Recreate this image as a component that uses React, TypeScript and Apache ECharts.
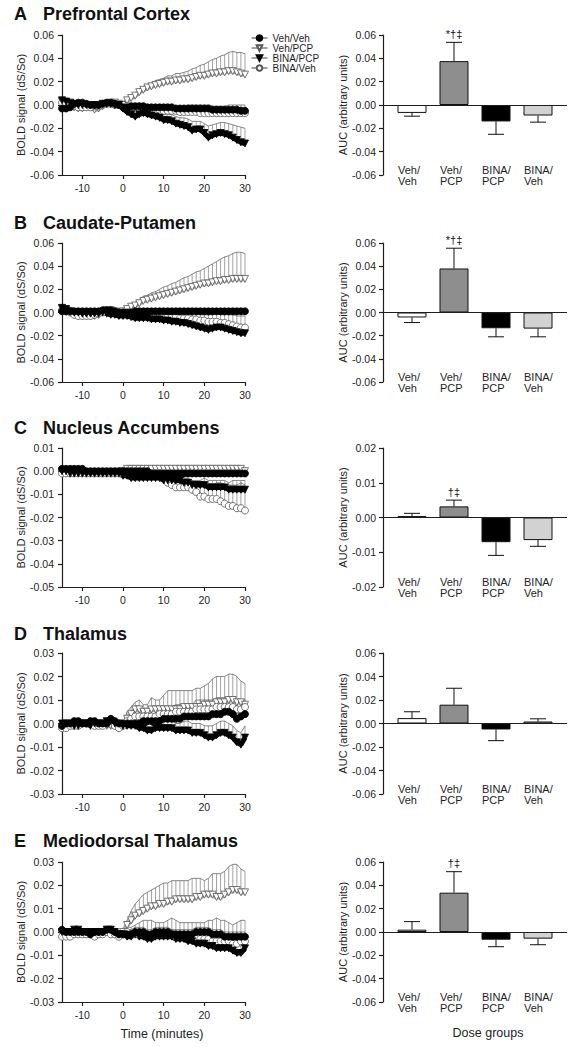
import React, { useEffect, useRef } from "react";
import * as echarts from "echarts";

// ---------- data ----------
const TIME = [
  -15, -14, -13, -12, -11, -10, -9, -8, -7, -6, -5, -4, -3, -2, -1,
  0, 1, 2, 3, 4, 5, 6, 7, 8, 9, 10, 11, 12, 13, 14, 15, 16, 17, 18, 19, 20,
  21, 22, 23, 24, 25, 26, 27, 28, 29, 30,
];
const GROUPS = ["Veh/Veh", "Veh/PCP", "BINA/PCP", "BINA/Veh"];
const BAR_LABELS = ["Veh/\nVeh", "Veh/\nPCP", "BINA/\nPCP", "BINA/\nVeh"];
const X_TICKS = [-10, 0, 10, 20, 30];

// A  Prefrontal Cortex
const PFC_VV = [
  -0.003, -0.003, -0.002, 0.001, 0.002,
  0.002, 0.001, 0.0, 0.0, 0.0,
  0.001, 0.002, 0.002, 0.001, 0.0,
  -0.002, -0.002, -0.001, -0.001, -0.001,
  -0.001, -0.002, -0.002, -0.002, -0.002,
  -0.002, -0.002, -0.002, -0.003, -0.003,
  -0.003, -0.003, -0.003, -0.003, -0.003,
  -0.003, -0.003, -0.004, -0.004, -0.004,
  -0.004, -0.004, -0.004, -0.004, -0.005,
  -0.005,
];
const PFC_VV_E = [
  0.001, 0.001, 0.001, 0.001, 0.001,
  0.001, 0.001, 0.001, 0.001, 0.001,
  0.001, 0.001, 0.001, 0.001, 0.001,
  0.001, 0.001, 0.001, 0.001, 0.001,
  0.002, 0.002, 0.002, 0.002, 0.002,
  0.002, 0.002, 0.002, 0.002, 0.002,
  0.002, 0.003, 0.003, 0.003, 0.003,
  0.003, 0.003, 0.003, 0.003, 0.003,
  0.003, 0.004, 0.004, 0.004, 0.005,
  0.005,
];
const PFC_VP = [
  0.003, 0.002, 0.0, -0.002, -0.003,
  -0.003, -0.002, -0.002, -0.004, -0.003,
  -0.001, 0.001, 0.002, 0.002, 0.001,
  0.0, 0.004, 0.006, 0.008, 0.011,
  0.013, 0.015, 0.016, 0.017, 0.018,
  0.019, 0.02, 0.02, 0.021, 0.021,
  0.022, 0.022, 0.023, 0.024, 0.025,
  0.025, 0.026, 0.027, 0.027, 0.028,
  0.028, 0.029, 0.029, 0.028, 0.027,
  0.026,
];
const PFC_VP_E = [
  0.001, 0.001, 0.001, 0.001, 0.001,
  0.001, 0.001, 0.001, 0.001, 0.001,
  0.001, 0.001, 0.001, 0.001, 0.001,
  0.001, 0.001, 0.002, 0.002, 0.003,
  0.003, 0.003, 0.003, 0.004, 0.004,
  0.004, 0.005, 0.005, 0.006, 0.006,
  0.006, 0.007, 0.008, 0.008, 0.009,
  0.01, 0.011, 0.012, 0.013, 0.014,
  0.015, 0.016, 0.017, 0.017, 0.018,
  0.018,
];
const PFC_BP = [
  0.004, 0.003, 0.002, 0.001, 0.0,
  0.0, 0.0, 0.0, 0.0, 0.0,
  0.001, 0.001, 0.001, 0.0, 0.0,
  -0.003, -0.006, -0.008, -0.01, -0.008,
  -0.007, -0.008, -0.009, -0.01, -0.011,
  -0.013, -0.013, -0.014, -0.016, -0.017,
  -0.018, -0.019, -0.022, -0.021, -0.021,
  -0.024, -0.028, -0.026, -0.025, -0.024,
  -0.025, -0.026, -0.028, -0.03, -0.032,
  -0.033,
];
const PFC_BP_E = [
  0.001, 0.001, 0.001, 0.001, 0.001,
  0.001, 0.001, 0.001, 0.001, 0.001,
  0.001, 0.001, 0.001, 0.001, 0.001,
  0.001, 0.002, 0.003, 0.003, 0.003,
  0.003, 0.004, 0.004, 0.004, 0.005,
  0.005, 0.005, 0.006, 0.006, 0.006,
  0.007, 0.007, 0.008, 0.007, 0.007,
  0.008, 0.01, 0.009, 0.009, 0.009,
  0.01, 0.01, 0.011, 0.012, 0.013,
  0.013,
];
const PFC_BV = [
  0.002, 0.001, 0.0, -0.001, -0.002,
  -0.002, -0.002, -0.002, -0.001, -0.001,
  0.0, 0.001, 0.001, 0.0, 0.0,
  0.0, -0.001, -0.002, -0.002, -0.003,
  -0.003, -0.003, -0.004, -0.004, -0.004,
  -0.005, -0.005, -0.005, -0.005, -0.006,
  -0.006, -0.006, -0.006, -0.006, -0.007,
  -0.007, -0.007, -0.007, -0.007, -0.007,
  -0.007, -0.007, -0.007, -0.007, -0.007,
  -0.007,
];
const PFC_BV_E = [
  0.001, 0.001, 0.001, 0.001, 0.001,
  0.001, 0.001, 0.001, 0.001, 0.001,
  0.001, 0.001, 0.001, 0.001, 0.001,
  0.001, 0.002, 0.002, 0.002, 0.002,
  0.002, 0.002, 0.002, 0.002, 0.002,
  0.002, 0.003, 0.003, 0.003, 0.003,
  0.003, 0.003, 0.003, 0.003, 0.003,
  0.003, 0.004, 0.004, 0.004, 0.004,
  0.004, 0.004, 0.005, 0.005, 0.005,
  0.005,
];

// B  Caudate-Putamen
const CPU_VV = [
  0.001, 0.001, 0.001, 0.001, 0.001,
  0.001, 0.001, 0.001, 0.001, 0.001,
  0.002, 0.002, 0.002, 0.001, 0.0,
  0.0, 0.0, 0.0, 0.001, 0.001,
  0.001, 0.001, 0.001, 0.001, 0.001,
  0.001, 0.001, 0.001, 0.001, 0.001,
  0.001, 0.001, 0.001, 0.001, 0.001,
  0.001, 0.001, 0.001, 0.001, 0.001,
  0.001, 0.001, 0.001, 0.001, 0.001,
  0.001,
];
const CPU_VV_E = [
  0.001, 0.001, 0.001, 0.001, 0.001,
  0.001, 0.001, 0.001, 0.001, 0.001,
  0.001, 0.001, 0.001, 0.001, 0.001,
  0.001, 0.001, 0.001, 0.001, 0.001,
  0.001, 0.001, 0.001, 0.001, 0.001,
  0.001, 0.001, 0.001, 0.001, 0.001,
  0.001, 0.001, 0.001, 0.001, 0.001,
  0.001, 0.001, 0.001, 0.001, 0.001,
  0.001, 0.001, 0.001, 0.001, 0.001,
  0.001,
];
const CPU_VP = [
  0.003, 0.002, 0.0, -0.002, -0.003,
  -0.003, -0.003, -0.003, -0.003, -0.002,
  0.0, 0.002, 0.002, 0.001, 0.0,
  0.001, 0.003, 0.005, 0.006, 0.008,
  0.01, 0.011, 0.012, 0.013, 0.014,
  0.015, 0.016, 0.017, 0.018, 0.019,
  0.02, 0.021, 0.022, 0.023, 0.024,
  0.025, 0.025, 0.026, 0.027, 0.027,
  0.028, 0.028, 0.029, 0.029, 0.029,
  0.029,
];
const CPU_VP_E = [
  0.001, 0.001, 0.001, 0.001, 0.001,
  0.001, 0.001, 0.001, 0.001, 0.001,
  0.001, 0.001, 0.001, 0.001, 0.001,
  0.001, 0.002, 0.002, 0.003, 0.003,
  0.004, 0.004, 0.005, 0.005, 0.006,
  0.007, 0.007, 0.008, 0.008, 0.009,
  0.01, 0.01, 0.011, 0.012, 0.012,
  0.013, 0.015, 0.016, 0.017, 0.019,
  0.02, 0.021, 0.022, 0.023, 0.023,
  0.022,
];
const CPU_BP = [
  0.004, 0.003, 0.001, 0.0, 0.0,
  -0.001, -0.001, -0.001, -0.001, -0.001,
  0.0, -0.001, -0.002, -0.002, -0.003,
  -0.003, -0.003, -0.004, -0.005, -0.005,
  -0.005, -0.005, -0.006, -0.006, -0.006,
  -0.007, -0.007, -0.008, -0.008, -0.009,
  -0.009, -0.01, -0.011, -0.012, -0.013,
  -0.014, -0.015, -0.014, -0.013, -0.013,
  -0.014, -0.015, -0.016, -0.017, -0.018,
  -0.018,
];
const CPU_BP_E = [
  0.001, 0.001, 0.001, 0.001, 0.001,
  0.001, 0.001, 0.001, 0.001, 0.001,
  0.001, 0.001, 0.001, 0.001, 0.001,
  0.001, 0.001, 0.001, 0.002, 0.002,
  0.002, 0.002, 0.002, 0.002, 0.002,
  0.002, 0.003, 0.003, 0.003, 0.003,
  0.003, 0.003, 0.004, 0.004, 0.004,
  0.004, 0.005, 0.005, 0.005, 0.005,
  0.005, 0.006, 0.006, 0.007, 0.007,
  0.007,
];
const CPU_BV = [
  0.002, 0.001, 0.0, -0.002, -0.003,
  -0.003, -0.003, -0.003, -0.002, -0.001,
  0.0, 0.001, 0.001, 0.0, 0.0,
  0.0, -0.001, -0.001, -0.002, -0.002,
  -0.002, -0.002, -0.003, -0.003, -0.003,
  -0.003, -0.004, -0.004, -0.004, -0.005,
  -0.005, -0.005, -0.006, -0.006, -0.007,
  -0.007, -0.008, -0.008, -0.008, -0.009,
  -0.009, -0.01, -0.011, -0.012, -0.013,
  -0.013,
];
const CPU_BV_E = [
  0.001, 0.001, 0.001, 0.001, 0.001,
  0.001, 0.001, 0.001, 0.001, 0.001,
  0.001, 0.001, 0.001, 0.001, 0.001,
  0.001, 0.002, 0.002, 0.002, 0.002,
  0.002, 0.002, 0.002, 0.002, 0.002,
  0.002, 0.003, 0.003, 0.003, 0.003,
  0.003, 0.004, 0.004, 0.005, 0.005,
  0.005, 0.006, 0.006, 0.007, 0.007,
  0.007, 0.008, 0.009, 0.009, 0.01,
  0.01,
];

// C  Nucleus Accumbens
const NAC_VV = [
  0.001, 0.001, 0.001, 0.001, 0.001,
  0.001, 0.0, 0.0, 0.0, 0.0,
  0.0, 0.0, 0.0, 0.0, 0.0,
  0.0, 0.0, 0.0, 0.0, 0.0,
  0.0, 0.0, -0.001, -0.001, -0.001,
  -0.001, -0.001, -0.001, -0.001, -0.001,
  -0.001, -0.001, -0.001, -0.001, -0.001,
  -0.001, -0.001, -0.001, -0.001, -0.001,
  -0.001, -0.001, -0.001, -0.001, -0.001,
  -0.001,
];
const NAC_VV_E = [
  0.0005, 0.0005, 0.0005, 0.0005, 0.0005,
  0.0005, 0.0005, 0.0005, 0.0005, 0.0005,
  0.0005, 0.0005, 0.0005, 0.0005, 0.0005,
  0.0005, 0.0005, 0.0005, 0.0005, 0.0005,
  0.0005, 0.0005, 0.0005, 0.0005, 0.0005,
  0.0005, 0.0005, 0.0005, 0.0005, 0.0005,
  0.0005, 0.0005, 0.0005, 0.0005, 0.0005,
  0.0005, 0.0005, 0.0005, 0.0005, 0.0005,
  0.0005, 0.0005, 0.0005, 0.0005, 0.0005,
  0.0005,
];
const NAC_VP = [
  -0.001, -0.001, -0.001, -0.001, -0.001,
  -0.001, -0.001, -0.001, -0.001, -0.001,
  -0.001, -0.001, -0.001, -0.001, -0.001,
  0.0, 0.001, 0.001, 0.001, 0.001,
  0.001, 0.001, 0.001, 0.001, 0.001,
  0.001, 0.001, 0.001, 0.001, 0.001,
  0.001, 0.001, 0.001, 0.001, 0.001,
  0.001, 0.001, 0.001, 0.001, 0.001,
  0.001, 0.001, 0.001, 0.001, 0.001,
  0.0,
];
const NAC_VP_E = [
  0.0005, 0.0005, 0.0005, 0.0005, 0.0005,
  0.0005, 0.0005, 0.0005, 0.0005, 0.0005,
  0.0005, 0.0005, 0.0005, 0.0005, 0.0005,
  0.0005, 0.0005, 0.0005, 0.0005, 0.0005,
  0.0005, 0.0005, 0.0005, 0.0005, 0.0005,
  0.0005, 0.0005, 0.0005, 0.0005, 0.0005,
  0.0005, 0.0005, 0.0005, 0.0005, 0.0005,
  0.0005, 0.0005, 0.0005, 0.0005, 0.0005,
  0.0005, 0.0005, 0.0005, 0.0005, 0.0005,
  0.0005,
];
const NAC_BP = [
  0.0, 0.0, -0.001, -0.001, -0.001,
  -0.001, -0.001, -0.001, -0.001, -0.001,
  -0.001, -0.001, -0.001, -0.001, -0.001,
  -0.002, -0.002, -0.003, -0.003, -0.003,
  -0.003, -0.003, -0.003, -0.003, -0.003,
  -0.004, -0.004, -0.004, -0.004, -0.004,
  -0.005, -0.005, -0.006, -0.006, -0.006,
  -0.006, -0.007, -0.007, -0.007, -0.007,
  -0.007, -0.008, -0.008, -0.008, -0.008,
  -0.008,
];
const NAC_BP_E = [
  0.0005, 0.0005, 0.0005, 0.0005, 0.0005,
  0.0005, 0.0005, 0.0005, 0.0005, 0.0005,
  0.0005, 0.0005, 0.0005, 0.0005, 0.0005,
  0.001, 0.001, 0.001, 0.001, 0.001,
  0.001, 0.001, 0.001, 0.001, 0.001,
  0.002, 0.002, 0.002, 0.002, 0.002,
  0.002, 0.002, 0.002, 0.002, 0.002,
  0.003, 0.003, 0.003, 0.003, 0.003,
  0.003, 0.003, 0.004, 0.004, 0.004,
  0.004,
];
const NAC_BV = [
  -0.001, -0.001, -0.001, -0.001, -0.001,
  -0.001, -0.001, -0.001, -0.001, -0.001,
  -0.001, -0.001, -0.001, -0.001, -0.001,
  -0.001, -0.001, -0.001, -0.001, -0.001,
  -0.001, -0.001, -0.001, -0.001, -0.001,
  -0.002, -0.005, -0.006, -0.007, -0.007,
  -0.007, -0.007, -0.008, -0.009, -0.011,
  -0.011, -0.012, -0.012, -0.012, -0.013,
  -0.014, -0.015, -0.015, -0.016, -0.016,
  -0.017,
];
const NAC_BV_E = [
  0.0005, 0.0005, 0.0005, 0.0005, 0.0005,
  0.0005, 0.0005, 0.0005, 0.0005, 0.0005,
  0.0005, 0.0005, 0.0005, 0.0005, 0.0005,
  0.001, 0.001, 0.001, 0.001, 0.001,
  0.001, 0.001, 0.001, 0.001, 0.001,
  0.001, 0.003, 0.003, 0.003, 0.003,
  0.003, 0.003, 0.004, 0.004, 0.006,
  0.006, 0.006, 0.006, 0.007, 0.008,
  0.008, 0.009, 0.009, 0.01, 0.011,
  0.011,
];

// D  Thalamus
const THA_VV = [
  -0.001, 0.0, 0.0, 0.001, 0.001,
  0.0, 0.0, 0.001, 0.001, 0.0,
  0.0, 0.0, 0.002, 0.001, 0.0,
  0.0, 0.0, 0.0, 0.0, 0.0,
  0.001, 0.001, 0.001, 0.001, 0.001,
  0.002, 0.002, 0.002, 0.002, 0.002,
  0.003, 0.003, 0.003, 0.003, 0.003,
  0.003, 0.003, 0.004, 0.004, 0.004,
  0.005, 0.005, 0.004, 0.002, 0.003,
  0.004,
];
const THA_VV_E = [
  0.001, 0.001, 0.001, 0.001, 0.001,
  0.001, 0.001, 0.001, 0.001, 0.001,
  0.001, 0.001, 0.001, 0.001, 0.001,
  0.001, 0.001, 0.001, 0.001, 0.001,
  0.002, 0.002, 0.002, 0.002, 0.002,
  0.002, 0.002, 0.002, 0.002, 0.002,
  0.002, 0.002, 0.002, 0.002, 0.002,
  0.002, 0.002, 0.002, 0.002, 0.002,
  0.002, 0.002, 0.002, 0.002, 0.002,
  0.002,
];
const THA_VP = [
  -0.002, -0.001, -0.001, 0.0, 0.0,
  0.0, 0.0, 0.0, 0.0, 0.0,
  0.0, -0.001, -0.001, -0.001, -0.002,
  -0.001, 0.002, 0.004, 0.006, 0.006,
  0.005, 0.005, 0.006, 0.006, 0.006,
  0.006, 0.006, 0.006, 0.006, 0.006,
  0.007, 0.007, 0.007, 0.007, 0.007,
  0.008, 0.008, 0.008, 0.009, 0.009,
  0.009, 0.01, 0.01, 0.009, 0.009,
  0.008,
];
const THA_VP_E = [
  0.001, 0.001, 0.001, 0.001, 0.001,
  0.001, 0.001, 0.001, 0.001, 0.001,
  0.001, 0.001, 0.001, 0.001, 0.001,
  0.001, 0.003, 0.003, 0.003, 0.004,
  0.003, 0.003, 0.005, 0.004, 0.004,
  0.006, 0.008, 0.008, 0.008, 0.008,
  0.007, 0.007, 0.007, 0.008, 0.008,
  0.008, 0.009, 0.011, 0.011, 0.011,
  0.011, 0.011, 0.011, 0.011, 0.009,
  0.009,
];
const THA_BP = [
  0.0, 0.0, 0.0, -0.001, -0.001,
  0.0, 0.0, -0.001, 0.0, 0.0,
  0.0, 0.001, 0.001, 0.0, 0.0,
  -0.001, -0.001, -0.001, -0.001, -0.002,
  -0.002, -0.003, -0.003, -0.002, -0.002,
  -0.002, -0.002, -0.002, -0.003, -0.003,
  -0.003, -0.003, -0.004, -0.004, -0.004,
  -0.005, -0.006, -0.006, -0.005, -0.004,
  -0.004, -0.005, -0.006, -0.008, -0.009,
  -0.006,
];
const THA_BP_E = [
  0.001, 0.001, 0.001, 0.001, 0.001,
  0.001, 0.001, 0.001, 0.001, 0.001,
  0.001, 0.001, 0.001, 0.001, 0.001,
  0.001, 0.002, 0.002, 0.002, 0.002,
  0.002, 0.003, 0.003, 0.003, 0.003,
  0.003, 0.003, 0.003, 0.003, 0.003,
  0.004, 0.004, 0.004, 0.004, 0.004,
  0.004, 0.005, 0.005, 0.005, 0.005,
  0.005, 0.005, 0.005, 0.005, 0.005,
  0.005,
];
const THA_BV = [
  -0.002, -0.002, -0.001, -0.001, -0.001,
  0.0, 0.0, 0.0, -0.001, -0.001,
  -0.001, 0.0, 0.0, -0.001, -0.002,
  -0.001, 0.001, 0.002, 0.003, 0.003,
  0.003, 0.003, 0.003, 0.003, 0.004,
  0.004, 0.004, 0.004, 0.005, 0.005,
  0.005, 0.005, 0.005, 0.006, 0.006,
  0.006, 0.006, 0.006, 0.007, 0.007,
  0.007, 0.007, 0.007, 0.006, 0.006,
  0.007,
];
const THA_BV_E = [
  0.001, 0.001, 0.001, 0.001, 0.001,
  0.001, 0.001, 0.001, 0.001, 0.001,
  0.001, 0.001, 0.001, 0.001, 0.001,
  0.001, 0.002, 0.002, 0.002, 0.002,
  0.003, 0.003, 0.003, 0.003, 0.003,
  0.003, 0.003, 0.003, 0.003, 0.003,
  0.003, 0.003, 0.003, 0.004, 0.004,
  0.004, 0.004, 0.004, 0.004, 0.004,
  0.004, 0.004, 0.004, 0.004, 0.004,
  0.003,
];

// E  Mediodorsal Thalamus
const MD_VV = [
  0.001, 0.0, 0.0, 0.0, 0.0,
  0.0, 0.0, -0.001, 0.0, 0.0,
  0.0, 0.001, 0.001, 0.0, -0.001,
  -0.001, -0.001, -0.001, 0.0, 0.0,
  0.0, -0.001, -0.001, 0.0, 0.0,
  0.0, 0.0, -0.001, -0.001, -0.001,
  -0.001, -0.001, -0.001, 0.0, 0.0,
  0.0, 0.0, -0.001, -0.001, -0.001,
  -0.002, -0.002, -0.002, -0.002, -0.002,
  -0.002,
];
const MD_VV_E = [
  0.001, 0.001, 0.001, 0.001, 0.001,
  0.001, 0.001, 0.001, 0.001, 0.001,
  0.001, 0.001, 0.001, 0.001, 0.001,
  0.002, 0.002, 0.002, 0.002, 0.002,
  0.002, 0.002, 0.002, 0.002, 0.002,
  0.002, 0.002, 0.002, 0.002, 0.002,
  0.002, 0.002, 0.002, 0.002, 0.002,
  0.002, 0.002, 0.002, 0.002, 0.002,
  0.002, 0.002, 0.002, 0.002, 0.002,
  0.002,
];
const MD_VP = [
  -0.001, -0.001, -0.001, 0.0, 0.0,
  -0.001, -0.001, 0.0, -0.001, -0.001,
  0.0, 0.0, -0.001, -0.001, -0.002,
  0.0, 0.003, 0.005, 0.007, 0.008,
  0.009, 0.01, 0.011, 0.011, 0.012,
  0.012, 0.013, 0.013, 0.014, 0.014,
  0.014, 0.014, 0.014, 0.015, 0.015,
  0.016, 0.016, 0.016, 0.015, 0.015,
  0.016, 0.017, 0.018, 0.018, 0.017,
  0.017,
];
const MD_VP_E = [
  0.001, 0.001, 0.001, 0.001, 0.001,
  0.001, 0.001, 0.001, 0.001, 0.001,
  0.001, 0.001, 0.001, 0.001, 0.001,
  0.001, 0.002, 0.004, 0.005, 0.006,
  0.007, 0.007, 0.007, 0.008, 0.008,
  0.009, 0.008, 0.009, 0.008, 0.008,
  0.008, 0.008, 0.009, 0.008, 0.008,
  0.006, 0.007, 0.009, 0.01, 0.01,
  0.01, 0.011, 0.011, 0.011, 0.01,
  0.009,
];
const MD_BP = [
  0.0, 0.0, 0.0, 0.001, 0.001,
  0.0, 0.0, 0.0, 0.0, 0.0,
  0.0, 0.001, 0.001, 0.0, -0.001,
  -0.001, -0.002, -0.002, -0.001, -0.002,
  -0.002, -0.003, -0.003, -0.002, -0.002,
  -0.002, -0.002, -0.002, -0.003, -0.003,
  -0.003, -0.004, -0.004, -0.005, -0.005,
  -0.005, -0.006, -0.006, -0.007, -0.007,
  -0.007, -0.007, -0.008, -0.009, -0.009,
  -0.007,
];
const MD_BP_E = [
  0.001, 0.001, 0.001, 0.001, 0.001,
  0.001, 0.001, 0.001, 0.001, 0.001,
  0.001, 0.001, 0.001, 0.001, 0.001,
  0.001, 0.002, 0.002, 0.002, 0.002,
  0.002, 0.002, 0.002, 0.002, 0.002,
  0.003, 0.003, 0.003, 0.003, 0.003,
  0.003, 0.003, 0.003, 0.003, 0.003,
  0.003, 0.003, 0.003, 0.003, 0.003,
  0.003, 0.003, 0.003, 0.003, 0.003,
  0.003,
];
const MD_BV = [
  -0.002, -0.002, -0.002, -0.001, -0.001,
  -0.001, -0.001, -0.001, -0.002, -0.001,
  -0.001, 0.0, -0.001, -0.001, -0.002,
  -0.001, 0.0, -0.001, -0.001, -0.001,
  -0.001, -0.001, -0.001, -0.001, -0.001,
  -0.001, -0.001, -0.001, -0.002, -0.002,
  -0.002, -0.002, -0.002, -0.003, -0.003,
  -0.003, -0.003, -0.004, -0.004, -0.004,
  -0.004, -0.004, -0.005, -0.005, -0.004,
  -0.004,
];
const MD_BV_E = [
  0.001, 0.001, 0.001, 0.001, 0.001,
  0.001, 0.001, 0.001, 0.001, 0.001,
  0.001, 0.001, 0.001, 0.001, 0.001,
  0.001, 0.002, 0.003, 0.004, 0.005,
  0.006, 0.006, 0.006, 0.005, 0.005,
  0.005, 0.006, 0.007, 0.007, 0.006,
  0.006, 0.006, 0.006, 0.007, 0.007,
  0.007, 0.008, 0.009, 0.01, 0.009,
  0.009, 0.008, 0.008, 0.009, 0.009,
  0.009,
];

// AUC bars (mean, SEM) and significance marks
const AUC_PFC = [-0.0068, 0.0376, -0.0141, -0.009];
const AUC_PFC_ERR = [0.0028, 0.0161, 0.011, 0.0057];
const SIG_PFC = ["", "*†‡", "", ""];
const AUC_CPU = [-0.0043, 0.038, -0.0136, -0.0139];
const AUC_CPU_ERR = [0.0044, 0.0175, 0.0074, 0.0071];
const SIG_CPU = ["", "*†‡", "", ""];
const AUC_NAC = [0.0004, 0.0032, -0.0071, -0.0065];
const AUC_NAC_ERR = [0.0008, 0.0018, 0.0038, 0.0018];
const SIG_NAC = ["", "†‡", "", ""];
const AUC_THA = [0.0046, 0.016, -0.0051, 0.0017];
const AUC_THA_ERR = [0.0054, 0.014, 0.0095, 0.0023];
const SIG_THA = ["", "", "", ""];
const AUC_MD = [0.002, 0.0337, -0.0066, -0.0057];
const AUC_MD_ERR = [0.0069, 0.018, 0.006, 0.0052];
const SIG_MD = ["", "†‡", "", ""];

const PANELS = [
  { letter: "A", title: "Prefrontal Cortex", means: [PFC_VV, PFC_VP, PFC_BP, PFC_BV], errs: [PFC_VV_E, PFC_VP_E, PFC_BP_E, PFC_BV_E], yMin: -0.06, yMax: 0.06, yStep: 0.02, auc: AUC_PFC, aucErr: AUC_PFC_ERR, sig: SIG_PFC, bMin: -0.06, bMax: 0.06, bStep: 0.02 },
  { letter: "B", title: "Caudate-Putamen", means: [CPU_VV, CPU_VP, CPU_BP, CPU_BV], errs: [CPU_VV_E, CPU_VP_E, CPU_BP_E, CPU_BV_E], yMin: -0.06, yMax: 0.06, yStep: 0.02, auc: AUC_CPU, aucErr: AUC_CPU_ERR, sig: SIG_CPU, bMin: -0.06, bMax: 0.06, bStep: 0.02 },
  { letter: "C", title: "Nucleus Accumbens", means: [NAC_VV, NAC_VP, NAC_BP, NAC_BV], errs: [NAC_VV_E, NAC_VP_E, NAC_BP_E, NAC_BV_E], yMin: -0.05, yMax: 0.01, yStep: 0.01, auc: AUC_NAC, aucErr: AUC_NAC_ERR, sig: SIG_NAC, bMin: -0.02, bMax: 0.02, bStep: 0.01 },
  { letter: "D", title: "Thalamus", means: [THA_VV, THA_VP, THA_BP, THA_BV], errs: [THA_VV_E, THA_VP_E, THA_BP_E, THA_BV_E], yMin: -0.03, yMax: 0.03, yStep: 0.01, auc: AUC_THA, aucErr: AUC_THA_ERR, sig: SIG_THA, bMin: -0.06, bMax: 0.06, bStep: 0.02 },
  { letter: "E", title: "Mediodorsal Thalamus", means: [MD_VV, MD_VP, MD_BP, MD_BV], errs: [MD_VV_E, MD_VP_E, MD_BP_E, MD_BV_E], yMin: -0.03, yMax: 0.03, yStep: 0.01, auc: AUC_MD, aucErr: AUC_MD_ERR, sig: SIG_MD, bMin: -0.06, bMax: 0.06, bStep: 0.02 },
];

// ---------- layout & style ----------
const LAYOUT = [
  { top: 35, bottom: 175, titleY: 14 },
  { top: 243, bottom: 382, titleY: 223 },
  { top: 448, bottom: 587, titleY: 428 },
  { top: 653, bottom: 794, titleY: 634 },
  { top: 862, bottom: 1002, titleY: 841 },
];
const FONT = "'Liberation Sans', Arial, Helvetica, sans-serif";
const INK = "#1e1e1e";
const MARKERS = [
  { symbol: "circle", size: 7, rotate: 0, fill: "#000", stroke: "#000", band: "#000" },
  { symbol: "triangle", size: 7, rotate: 180, fill: "#fff", stroke: "#555", band: "#a8a8a8" },
  { symbol: "triangle", size: 7, rotate: 180, fill: "#000", stroke: "#000", band: "#000" },
  { symbol: "circle", size: 7, rotate: 0, fill: "#fff", stroke: "#555", band: "#a8a8a8" },
];
const DRAW_ORDER = [1, 3, 2, 0];
const BAR_COLORS = ["#ffffff", "#8e8e8e", "#000000", "#d2d2d2"];

const AXIS_LINE = { show: true, onZero: false, lineStyle: { color: INK, width: 1.2 } };
const AXIS_TICK = { show: true, inside: false, length: 4, lineStyle: { color: INK, width: 1.2 } };
const fmt2 = (v: number) => (Math.abs(v) < 1e-9 ? 0 : v).toFixed(2);

function renderHatch(_params: any, api: any) {
  const t = api.value(0);
  const m = api.value(1);
  const e = api.value(2);
  const a = api.coord([t, m]);
  const b = api.coord([t, m + e]);
  return {
    type: "line",
    shape: { x1: a[0], y1: a[1], x2: b[0], y2: b[1] },
    style: { stroke: "#8a8a8a", lineWidth: 0.8 },
  };
}

function makeBarErr(sig: string[]) {
  return (params: any, api: any) => {
    const i = api.value(0);
    const m = api.value(1);
    const e = api.value(2);
    const dir = m >= 0 ? 1 : -1;
    const a = api.coord([i, m]);
    const b = api.coord([i, m + dir * e]);
    const children: any[] = [
      { type: "line", shape: { x1: a[0], y1: a[1], x2: b[0], y2: b[1] }, style: { stroke: "#111", lineWidth: 1 } },
      { type: "line", shape: { x1: b[0] - 8, y1: b[1], x2: b[0] + 8, y2: b[1] }, style: { stroke: "#111", lineWidth: 1 } },
    ];
    const s = sig[params.dataIndex];
    if (s) {
      children.push({
        type: "text",
        x: b[0],
        y: b[1] - 3,
        style: { text: s, font: `11px ${FONT}`, fill: "#111", align: "center", verticalAlign: "bottom", textAlign: "center", textVerticalAlign: "bottom" },
      });
    }
    return { type: "group", children };
  };
}

function buildOption() {
  const grid: any[] = [];
  const xAxis: any[] = [];
  const yAxis: any[] = [];
  const series: any[] = [];
  const graphic: any[] = [];

  PANELS.forEach((p, k) => {
    const L = LAYOUT[k];
    const gl = 2 * k;
    const gr = 2 * k + 1;
    const h = L.bottom - L.top;
    grid.push({ left: 62, top: L.top, width: 183, height: h });
    grid.push({ left: 383, top: L.top, width: 184, height: h });

    // time-course axes
    xAxis.push({
      type: "value", gridIndex: gl, min: -15, max: 30,
      axisLine: AXIS_LINE,
      axisTick: { ...AXIS_TICK, customValues: X_TICKS },
      axisLabel: { customValues: X_TICKS, margin: 7, fontSize: 10.5, color: INK, fontFamily: FONT },
      splitLine: { show: false },
      name: k === 4 ? "Time (minutes)" : "",
      nameLocation: "middle", nameGap: 25,
      nameTextStyle: { fontSize: 12.5, color: INK, fontFamily: FONT, padding: [0, 0, 0, 17] },
    });
    yAxis.push({
      type: "value", gridIndex: gl, min: p.yMin, max: p.yMax, interval: p.yStep,
      axisLine: AXIS_LINE, axisTick: AXIS_TICK,
      axisLabel: { formatter: fmt2, margin: 8, fontSize: 10.5, color: INK, fontFamily: FONT },
      splitLine: { show: false },
      name: "BOLD signal (dS/So)", nameLocation: "middle", nameGap: 33, nameRotate: 90,
      nameTextStyle: { fontSize: 11, color: INK, fontFamily: FONT },
    });
    // AUC axes
    xAxis.push({
      type: "value", gridIndex: gr, min: -0.69, max: 3.69, offset: -10,
      axisLine: { show: false, onZero: false }, axisTick: { show: false }, splitLine: { show: false },
      axisLabel: {
        customValues: GROUPS.map((_, i) => i - 1 / 3),
        formatter: (v: number) => BAR_LABELS[Math.round(v + 1 / 3)] || "",
        align: "left", margin: 0, fontSize: 11, lineHeight: 10.5, color: INK, fontFamily: FONT,
      },
      name: k === 4 ? "Dose groups" : "",
      nameLocation: "middle", nameGap: 34,
      nameTextStyle: { fontSize: 12.5, color: INK, fontFamily: FONT, padding: [0, 0, 0, 26] },
    });
    yAxis.push({
      type: "value", gridIndex: gr, min: p.bMin, max: p.bMax, interval: p.bStep,
      axisLine: AXIS_LINE, axisTick: AXIS_TICK,
      axisLabel: { formatter: fmt2, margin: 7, fontSize: 10.5, color: INK, fontFamily: FONT },
      splitLine: { show: false },
      name: "AUC (arbitrary units)", nameLocation: "middle", nameGap: 34, nameRotate: 90,
      nameTextStyle: { fontSize: 11, color: INK, fontFamily: FONT },
    });

    // error hatching + upper envelope
    DRAW_ORDER.forEach((g) => {
      const mean = p.means[g];
      const err = p.errs[g];
      series.push({
        type: "custom", xAxisIndex: gl, yAxisIndex: gl, silent: true, z: 1,
        renderItem: renderHatch, encode: { x: 0, y: 1 },
        data: TIME.map((t, i) => [t, mean[i], err[i]]),
      });
      series.push({
        type: "line", xAxisIndex: gl, yAxisIndex: gl, silent: true, z: 2,
        symbol: "none", lineStyle: { color: "#555", width: 0.7 },
        data: TIME.map((t, i) => [t, mean[i] + err[i]]),
      });
    });
    // mean traces with dense markers
    DRAW_ORDER.forEach((g) => {
      const mk = MARKERS[g];
      series.push({
        name: GROUPS[g], type: "line", xAxisIndex: gl, yAxisIndex: gl, z: 3,
        showSymbol: true, showAllSymbol: true,
        symbol: mk.symbol, symbolSize: mk.size, symbolRotate: mk.rotate,
        itemStyle: { color: mk.fill, borderColor: mk.stroke, borderWidth: 0.8 },
        lineStyle: { color: mk.band, width: 5 },
        data: TIME.map((t, i) => [t, p.means[g][i]]),
      });
    });

    // bars
    series.push({
      type: "bar", xAxisIndex: gr, yAxisIndex: gr, barWidth: 29, z: 2,
      data: GROUPS.map((_, i) => ({
        value: [i, p.auc[i]],
        itemStyle: { color: BAR_COLORS[i], borderColor: "#111", borderWidth: 1 },
      })),
      markLine: {
        silent: true, symbol: "none", label: { show: false },
        lineStyle: { color: INK, width: 1.2, type: "solid" },
        data: [{ yAxis: 0 }],
      },
    });
    series.push({
      type: "custom", xAxisIndex: gr, yAxisIndex: gr, silent: true, z: 3,
      renderItem: makeBarErr(p.sig), encode: { x: 0, y: 1 },
      data: GROUPS.map((_, i) => [i, p.auc[i], p.aucErr[i]]),
    });

    // panel titles
    graphic.push({
      type: "text", x: 14, y: L.titleY,
      style: { text: p.letter, font: `bold 18px ${FONT}`, fill: "#111", verticalAlign: "middle", textVerticalAlign: "middle" },
    });
    graphic.push({
      type: "text", x: 43, y: L.titleY,
      style: { text: p.title, font: `bold 18px ${FONT}`, fill: "#111", verticalAlign: "middle", textVerticalAlign: "middle" },
    });
  });

  return {
    animation: false,
    backgroundColor: "#fff",
    textStyle: { fontFamily: FONT, color: INK },
    grid, xAxis, yAxis, series, graphic,
    legend: {
      data: GROUPS, orient: "vertical", left: 251, top: 33,
      itemWidth: 16, itemHeight: 7, itemGap: 0, padding: 0, selectedMode: false,
      lineStyle: { width: 1, color: "#444" },
      textStyle: { fontSize: 10, lineHeight: 10, color: INK, fontFamily: FONT },
    },
  };
}

export default function App() {
  const ref = useRef<HTMLDivElement>(null);
  useEffect(() => {
    document.body.style.margin = "0";
    const chart = echarts.init(ref.current!, null, { renderer: "svg" });
    chart.setOption(buildOption() as any);
    return () => chart.dispose();
  }, []);
  return <div ref={ref} style={{ width: 579, height: 1047, background: "#fff" }} />;
}
